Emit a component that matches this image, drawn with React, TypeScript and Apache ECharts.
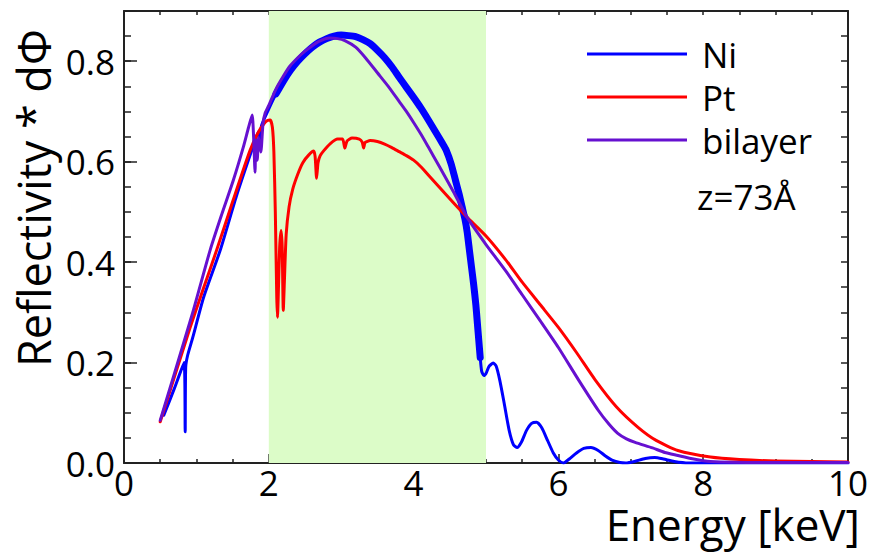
import React, { useEffect, useRef } from 'react';
import * as echarts from 'echarts';

const niData: number[][] = [
  [0.55, 0.095], [0.7, 0.15], [0.83, 0.2], [0.845, 0.062], [0.852, 0.19], [0.88, 0.215],
  [0.95, 0.25], [1.1, 0.33], [1.33, 0.424], [1.55, 0.53], [1.78, 0.629], [1.86, 0.66],
  [1.88, 0.645], [1.9, 0.672], [2.0, 0.705], [2.1, 0.735], [2.2, 0.76], [2.3, 0.782],
  [2.4, 0.8], [2.5, 0.815], [2.6, 0.828], [2.7, 0.838], [2.8, 0.845], [2.9, 0.85],
  [3.0, 0.852], [3.1, 0.851], [3.2, 0.849], [3.3, 0.843], [3.4, 0.835], [3.5, 0.822],
  [3.6, 0.807], [3.7, 0.789], [3.8, 0.768], [3.9, 0.748], [4.0, 0.728], [4.1, 0.707],
  [4.2, 0.684], [4.3, 0.66], [4.4, 0.636], [4.45, 0.623], [4.52, 0.595], [4.58, 0.562],
  [4.63, 0.535], [4.67, 0.51], [4.71, 0.485], [4.74, 0.46], [4.77, 0.425], [4.8, 0.39],
  [4.83, 0.355], [4.86, 0.315], [4.88, 0.28], [4.9, 0.245], [4.92, 0.21], [4.94, 0.183],
  [4.97, 0.174], [5.0, 0.178], [5.04, 0.192], [5.1, 0.199], [5.14, 0.193], [5.19, 0.165],
  [5.25, 0.12], [5.32, 0.065], [5.38, 0.036], [5.43, 0.031], [5.49, 0.042], [5.56, 0.065],
  [5.63, 0.079], [5.7, 0.081], [5.77, 0.07], [5.85, 0.045], [5.93, 0.02], [6.0, 0.006],
  [6.07, 0.0], [6.15, 0.008], [6.25, 0.02], [6.35, 0.029], [6.45, 0.031], [6.55, 0.025],
  [6.65, 0.014], [6.75, 0.005], [6.85, 0.001], [6.93, 0.0], [7.05, 0.003], [7.2, 0.009],
  [7.33, 0.011], [7.45, 0.008], [7.6, 0.003], [7.8, 0.0], [8.5, 0.0], [10, 0.0]
];

const ptData: number[][] = [
  [0.5, 0.082], [0.7, 0.173], [0.91, 0.268], [1.1, 0.349], [1.28, 0.424], [1.5, 0.52],
  [1.74, 0.622], [1.85, 0.657], [1.93, 0.675], [1.98, 0.682], [2.02, 0.683], [2.05, 0.668],
  [2.07, 0.62], [2.09, 0.5], [2.11, 0.33], [2.12, 0.29], [2.13, 0.33], [2.15, 0.43],
  [2.17, 0.463], [2.185, 0.43], [2.2, 0.304], [2.215, 0.36], [2.24, 0.455], [2.28, 0.51],
  [2.33, 0.545], [2.4, 0.575], [2.47, 0.598], [2.55, 0.613], [2.62, 0.621], [2.64, 0.61],
  [2.66, 0.567], [2.68, 0.598], [2.71, 0.612], [2.76, 0.622], [2.85, 0.636], [2.95, 0.645],
  [3.02, 0.645], [3.05, 0.627], [3.08, 0.641], [3.15, 0.647], [3.25, 0.645], [3.29, 0.639],
  [3.31, 0.627], [3.33, 0.638], [3.4, 0.642], [3.5, 0.64], [3.6, 0.635], [3.7, 0.628],
  [3.8, 0.62], [3.9, 0.612], [4.0, 0.603], [4.1, 0.59], [4.2, 0.574], [4.35, 0.55],
  [4.55, 0.518], [4.74, 0.489], [5.0, 0.452], [5.27, 0.405], [5.5, 0.36], [5.75, 0.315],
  [6.0, 0.27], [6.25, 0.22], [6.51, 0.165], [6.8, 0.112], [7.1, 0.071], [7.35, 0.045],
  [7.65, 0.025], [8.1, 0.012], [8.5, 0.007], [9.0, 0.004], [9.5, 0.003], [10, 0.002]
];

const bilayerData: number[][] = [
  [0.5, 0.085], [0.7, 0.18], [0.96, 0.305], [1.19, 0.424], [1.35, 0.495], [1.51, 0.563],
  [1.65, 0.63], [1.72, 0.668], [1.77, 0.693], [1.79, 0.65], [1.81, 0.579], [1.82, 0.643],
  [1.84, 0.603], [1.86, 0.648], [1.89, 0.619], [1.92, 0.676], [1.95, 0.697], [2.0, 0.712],
  [2.1, 0.745], [2.2, 0.77], [2.29, 0.79], [2.4, 0.807], [2.5, 0.82], [2.6, 0.831],
  [2.7, 0.84], [2.84, 0.846], [2.95, 0.845], [3.05, 0.841], [3.2, 0.828], [3.34, 0.806],
  [3.5, 0.777], [3.65, 0.75], [3.8, 0.72], [3.9, 0.7], [4.0, 0.678], [4.1, 0.655],
  [4.2, 0.63], [4.35, 0.592], [4.55, 0.54], [4.74, 0.489], [5.0, 0.435], [5.27, 0.383],
  [5.5, 0.335], [5.75, 0.283], [6.0, 0.23], [6.28, 0.165], [6.55, 0.105], [6.7, 0.077],
  [6.82, 0.059], [6.94, 0.048], [7.06, 0.041], [7.3, 0.03], [7.47, 0.021], [7.65, 0.015],
  [7.83, 0.009], [8.1, 0.003], [9.0, 0.001], [10, 0.001]
];

const bandRange = [2, 5];
const legendNames = ['Ni', 'Pt', 'bilayer'];
const noteText = 'z=73Å';
const xTitle = 'Energy [keV]';
const yTitle = 'Reflectivity * dΦ';

const FONT = '"Open Sans", "DejaVu Sans", sans-serif';
const AXIS_COLOR = '#222';

export default function App() {
  const ref = useRef<HTMLDivElement>(null);
  useEffect(() => {
    if (!ref.current) return;
    const chart = echarts.init(ref.current, null, { renderer: 'svg' });
    const niBand = niData.filter(([x]) => x >= 2.1 && x <= 4.93);
    const lineBase = { cap: 'round', join: 'round' };
    const common = { type: 'line', showSymbol: false, symbol: 'none', z: 3, smooth: 0.2 };
    chart.setOption({
      animation: false,
      grid: { left: 124, right: 20, top: 11, bottom: 91, containLabel: false },
      legend: {
        data: legendNames,
        orient: 'vertical',
        left: 582,
        top: 31,
        itemWidth: 100,
        itemHeight: 3,
        itemGap: 7,
        icon: 'rect',
        textStyle: { fontSize: 35, fontFamily: FONT, color: '#000', lineHeight: 36, padding: [0, 0, 0, 10] }
      },
      xAxis: [
        {
          type: 'value', position: 'bottom', min: 0, max: 10, interval: 2,
          axisLine: { onZero: false, lineStyle: { color: AXIS_COLOR, width: 2 } },
          axisTick: { inside: true, length: 9, lineStyle: { color: AXIS_COLOR, width: 1.5 } },
          minorTick: { show: true, splitNumber: 4, length: 4, lineStyle: { color: AXIS_COLOR, width: 1.5 } },
          splitLine: { show: false },
          axisLabel: { fontSize: 35, fontFamily: FONT, color: '#000', margin: 5, lineHeight: 28 }
        },
        {
          type: 'value', position: 'top', min: 0, max: 10, interval: 0.5,
          axisLine: { onZero: false, lineStyle: { color: AXIS_COLOR, width: 2 } },
          axisTick: { inside: true, length: 4, lineStyle: { color: AXIS_COLOR, width: 1.5 } },
          splitLine: { show: false },
          axisLabel: { show: false }
        }
      ],
      yAxis: [
        {
          type: 'value', position: 'left', min: 0, max: 0.9, interval: 0.05,
          axisLine: { onZero: false, lineStyle: { color: AXIS_COLOR, width: 2 } },
          axisTick: { inside: true, length: 7, lineStyle: { color: AXIS_COLOR, width: 1.5 } },
          splitLine: { show: false },
          axisLabel: {
            fontSize: 35, fontFamily: FONT, color: '#000', margin: 9,
            formatter: (v: number) => {
              const r = v / 0.2;
              return Math.abs(r - Math.round(r)) < 1e-6 ? v.toFixed(1) : '';
            }
          }
        },
        {
          type: 'value', position: 'left', min: 0, max: 0.9, interval: 0.2,
          axisLine: { show: false, onZero: false },
          axisTick: { inside: true, length: 13, lineStyle: { color: AXIS_COLOR, width: 1.5 } },
          splitLine: { show: false },
          axisLabel: { show: false }
        },
        {
          type: 'value', position: 'right', min: 0, max: 0.9, interval: 0.05,
          axisLine: { onZero: false, lineStyle: { color: AXIS_COLOR, width: 2 } },
          axisTick: { inside: true, length: 7, lineStyle: { color: AXIS_COLOR, width: 1.5 } },
          splitLine: { show: false },
          axisLabel: { show: false }
        }
      ],
      series: [
        {
          name: '_band', type: 'line', data: [], z: 1, silent: true,
          markArea: {
            silent: true,
            itemStyle: { color: '#dcfcc8' },
            data: [[{ xAxis: bandRange[0] }, { xAxis: bandRange[1] }]]
          }
        },
        {
          ...common, name: 'Ni', data: niData,
          color: '#0000ff', lineStyle: { ...lineBase, width: 3, color: '#0000ff' }
        },
        {
          ...common, name: 'Ni', data: niBand,
          color: '#0000ff', lineStyle: { ...lineBase, width: 7, color: '#0000ff' }
        },
        {
          ...common, name: 'Pt', data: ptData,
          color: '#ff0000', lineStyle: { ...lineBase, width: 3, color: '#ff0000' }
        },
        {
          ...common, name: 'bilayer', data: bilayerData,
          color: '#6610d0', lineStyle: { ...lineBase, width: 3, color: '#6610d0' }
        }
      ],
      graphic: [
        {
          type: 'text', x: 697, y: 196,
          style: { text: noteText, fontSize: 35, fontFamily: FONT, fill: '#000', align: 'left', verticalAlign: 'middle' }
        },
        {
          type: 'text', x: 860, y: 524,
          style: { text: xTitle, fontSize: 44, lineHeight: 40, fontFamily: FONT, fill: '#000', align: 'right', verticalAlign: 'middle' }
        },
        {
          type: 'text', x: 33, y: 367, rotation: Math.PI / 2,
          style: { text: yTitle, fontSize: 45, fontFamily: FONT, fill: '#000', align: 'left', verticalAlign: 'middle' }
        }
      ]
    });
    return () => chart.dispose();
  }, []);
  return <div ref={ref} style={{ position: 'absolute', left: 0, top: 0, width: 871, height: 554 }} />;
}
